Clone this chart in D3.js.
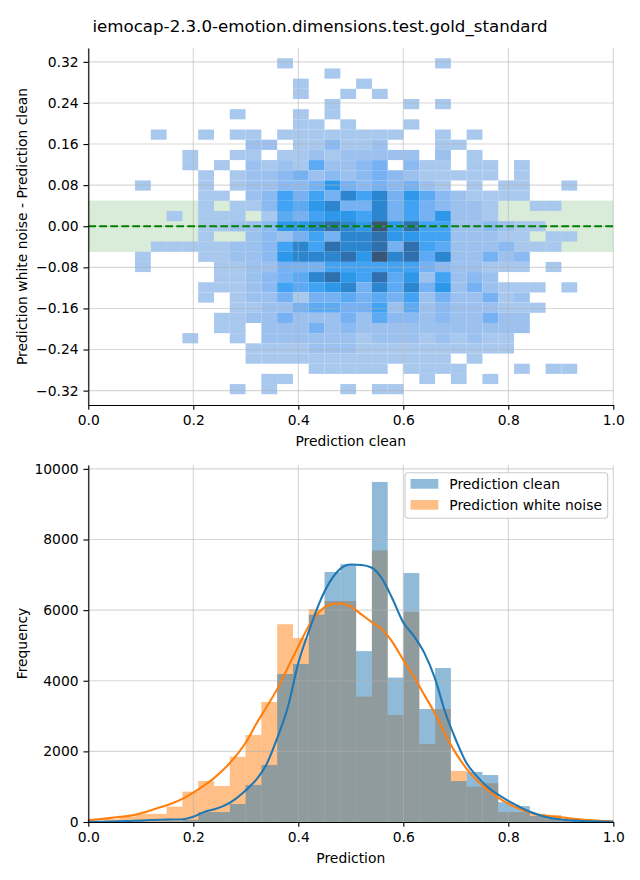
<!DOCTYPE html>
<html><head><meta charset="utf-8">
<script src="https://cdn.jsdelivr.net/npm/d3@7"></script>
<style>body{margin:0;background:#fff}</style>
</head><body><svg id="c" width="640" height="880"></svg>
<script>
// ---------------- data ----------------
const title = "iemocap-2.3.0-emotion.dimensions.test.gold_standard";
const xTicks = [0, 0.2, 0.4, 0.6, 0.8, 1.0];
const yTicksTop = [0.32, 0.24, 0.16, 0.08, 0, -0.08, -0.16, -0.24, -0.32];
const yTicksBottom = [0, 2000, 4000, 6000, 8000, 10000];
const seriesNames = ["Prediction clean", "Prediction white noise"];

// 2D histogram (rows from top = highest difference, 28 columns of Prediction clean)
const heatXStart = 0.089, heatXWidth = 0.03008;
const heatYTop = 0.327, heatYHeight = 0.01982;
const heatCounts = [
[0,0,0,0,0,0,0,0,0,1,0,0,0,0,0,0,0,0,0,1,0,0,0,0,0,0,0,0],
[0,0,0,0,0,0,0,0,0,0,0,0,1,0,0,0,0,0,0,0,0,0,0,0,0,0,0,0],
[0,0,0,0,0,0,0,0,0,0,1,0,0,0,1,0,0,0,0,0,0,0,0,0,0,0,0,0],
[0,0,0,0,0,0,0,0,0,0,1,0,0,1,0,1,0,0,0,0,0,0,0,0,0,0,0,0],
[0,0,0,0,0,0,0,0,0,0,0,0,1,0,0,0,0,1,0,1,0,0,0,0,0,0,0,0],
[0,0,0,0,0,0,1,0,0,0,1,0,1,0,0,0,0,0,0,0,0,0,0,0,0,0,0,0],
[0,0,0,0,0,0,0,0,0,0,1,1,0,1,0,0,0,1,0,0,0,0,0,0,0,0,0,0],
[0,1,0,0,1,0,1,1,0,1,1,1,1,1,1,1,1,0,0,1,0,1,0,0,0,0,0,0],
[0,0,0,0,0,0,0,2,2,0,1,1,3,1,1,2,0,0,0,1,1,0,0,0,0,0,0,0],
[0,0,0,1,0,0,1,1,0,1,1,2,1,2,2,2,2,2,0,2,0,1,0,0,0,0,0,0],
[0,0,0,1,0,1,0,2,1,2,1,5,2,2,3,4,0,3,1,1,0,1,1,0,1,0,0,0],
[0,0,0,0,1,0,1,2,2,3,4,2,3,2,3,4,3,2,1,1,1,1,1,0,1,0,0,0],
[1,0,0,0,1,0,1,2,2,3,3,4,7,4,3,4,3,4,2,1,0,1,0,1,1,0,0,1],
[0,0,0,0,1,1,0,2,3,6,4,6,4,8,6,8,4,7,5,3,2,1,1,1,1,0,0,0],
[0,0,0,0,1,0,1,1,3,6,5,7,8,4,4,8,4,6,4,3,2,2,1,0,0,1,1,0],
[0,0,1,0,1,1,1,0,1,5,4,6,7,7,6,8,4,6,4,7,2,2,1,0,0,0,0,0],
[0,0,0,0,1,1,2,2,3,7,7,8,9,8,7,10,7,9,6,6,2,2,3,2,1,1,0,0],
[0,0,0,0,1,0,0,2,3,2,4,6,4,8,8,9,7,7,6,6,2,2,2,1,1,0,1,1],
[0,1,1,1,1,1,2,2,3,6,8,6,9,8,8,9,4,9,6,5,2,2,2,3,1,1,1,0],
[1,0,0,0,1,1,2,2,3,7,8,8,8,9,7,10,8,9,5,8,2,2,4,2,3,0,0,0],
[1,0,0,0,0,1,1,2,2,4,4,4,6,6,6,6,6,6,4,3,2,2,1,1,1,0,1,0],
[0,0,0,0,0,1,1,2,3,4,5,8,9,7,6,9,5,7,2,6,2,3,2,0,0,0,0,0],
[0,0,0,0,1,1,1,2,3,6,5,6,7,8,4,8,5,8,4,7,2,4,2,1,1,1,0,1],
[0,0,0,0,1,0,1,2,2,4,1,4,4,5,4,5,4,6,2,4,2,2,4,1,2,0,0,0],
[0,0,0,0,0,0,1,1,2,2,4,5,5,4,4,6,2,5,2,3,2,2,2,1,1,1,0,0],
[0,0,0,0,0,1,1,2,2,4,2,2,2,4,2,5,3,3,2,3,2,2,4,2,2,0,0,0],
[0,0,0,0,0,1,1,0,2,2,2,4,2,3,2,2,2,2,2,2,2,2,2,2,2,0,0,0],
[0,0,0,1,0,0,1,0,2,2,2,2,2,2,1,2,2,2,1,2,1,2,1,1,0,0,0,0],
[0,0,0,0,0,0,0,1,1,1,1,2,2,2,1,1,1,1,1,1,1,1,1,1,0,0,0,0],
[0,0,0,0,0,0,0,1,1,1,1,1,1,1,1,1,1,1,1,1,0,1,0,0,0,0,0,0],
[0,0,0,0,0,0,0,0,0,0,0,1,1,1,1,1,0,1,1,1,1,0,0,0,1,0,1,1],
[0,0,0,0,0,0,0,0,1,1,0,0,0,0,0,0,0,0,1,0,1,0,1,0,0,0,0,0],
[0,0,0,0,0,0,1,0,1,0,0,0,0,1,0,1,1,0,0,0,0,0,0,0,0,0,0,0]
];
const bandLow = -0.05, bandHigh = 0.05;

// 1D histograms
const histStart = -0.0012, histWidth = 0.03008;
const histClean = [0,0,5,10,15,20,60,280,280,510,1050,1615,4190,4475,5870,7080,7300,4840,9630,4090,7050,3200,4360,1160,1415,1330,560,450,170,100,30];
const histNoise = [40,80,150,230,230,435,860,1160,1020,1850,2465,3400,5600,5210,6030,6260,6260,3550,7690,3030,5950,2210,3200,1445,1000,1100,280,280,230,200,40];

// KDE curves
const kdeX = [0,0.02,0.04,0.06,0.08,0.10,0.12,0.14,0.16,0.18,0.20,0.22,0.24,0.26,0.28,0.30,0.32,0.34,0.36,0.38,0.40,0.42,0.44,0.46,0.48,0.50,0.52,0.54,0.56,0.58,0.60,0.62,0.64,0.66,0.68,0.70,0.72,0.74,0.76,0.78,0.80,0.82,0.84,0.86,0.88,0.90,0.92,0.94,0.96,0.98,1.00];
const kdeClean = [4,8,12,20,30,40,55,65,70,80,150,280,360,470,650,900,1200,1650,2380,3250,4500,5400,6200,6800,7170,7290,7280,7200,6880,6300,5650,5270,4790,4080,3100,2330,1680,1300,1000,780,600,440,295,190,115,70,45,28,17,10,5];
const kdeNoise = [55,80,110,145,180,250,335,430,530,660,830,1030,1250,1520,1850,2250,2780,3270,3770,4370,4970,5550,5950,6150,6190,6100,5880,5660,5450,5080,4590,4120,3600,3080,2480,1950,1520,1180,920,700,520,380,275,200,165,135,100,70,45,30,20];

// ---------------- drawing ----------------
const FONT = '"DejaVu Sans", sans-serif';
const svg = d3.select("#c");
const L = 88.3, R = 613.3;
const top1 = 48, bot1 = 405;
const top2 = 465, bot2 = 822;
const tickLen = 4.86, lw = 1.11;
const minus = v => v.replace("-", "\u2212");

svg.append("text").attr("x", 320).attr("y", 31.5).attr("text-anchor", "middle")
  .attr("font-family", FONT).attr("font-size", 16.67).attr("fill", "#000").text(title);

// ----- top panel -----
const x1 = d3.scaleLinear().domain([0, 1]).range([L, R]);
const y1 = d3.scaleLinear().domain([-0.348, 0.347]).range([bot1, top1]);
const g1 = svg.append("g");

g1.append("rect").attr("x", L).attr("width", R - L)
  .attr("y", y1(bandHigh)).attr("height", y1(bandLow) - y1(bandHigh))
  .attr("fill", "green").attr("fill-opacity", 0.15);

const levelColors = ["#a9c8ee","#9dc1ef","#8bb9f1","#76b1f3","#5caaf4","#42a2f3","#2d98ea","#2b86cf","#306fae","#3a5676"];
const color = d3.scaleLinear().domain(d3.range(1, 11)).range(levelColors);
const cells = [];
heatCounts.forEach((row, r) => row.forEach((v, c) => { if (v > 0) cells.push({r, c, v}); }));
g1.append("g").selectAll("rect").data(cells).join("rect")
  .attr("x", d => x1(heatXStart + d.c * heatXWidth))
  .attr("width", d => x1(heatXStart + (d.c + 1) * heatXWidth) - x1(heatXStart + d.c * heatXWidth))
  .attr("y", d => y1(heatYTop - d.r * heatYHeight))
  .attr("height", d => y1(heatYTop - (d.r + 1) * heatYHeight) - y1(heatYTop - d.r * heatYHeight))
  .attr("fill", d => color(d.v));

function grid(g, x, y, xt, yt, t, b) {
  g.append("g").selectAll("line").data(xt).join("line")
    .attr("x1", d => x(d)).attr("x2", d => x(d)).attr("y1", t).attr("y2", b)
    .attr("stroke", "#b0b0b0").attr("stroke-opacity", 0.5).attr("stroke-width", lw);
  g.append("g").selectAll("line").data(yt).join("line")
    .attr("y1", d => y(d)).attr("y2", d => y(d)).attr("x1", L).attr("x2", R)
    .attr("stroke", "#b0b0b0").attr("stroke-opacity", 0.5).attr("stroke-width", lw);
}
grid(g1, x1, y1, xTicks, yTicksTop, top1, bot1);

g1.append("line").attr("x1", L).attr("x2", R).attr("y1", y1(0)).attr("y2", y1(0))
  .attr("stroke", "green").attr("stroke-width", 2.08).attr("stroke-dasharray", "7.7,3.3");

function styleAxis(g) {
  g.selectAll("path.domain").attr("stroke", "#000").attr("stroke-width", lw);
  g.selectAll(".tick line").attr("stroke", "#000").attr("stroke-width", lw);
  g.selectAll(".tick text").attr("font-family", FONT).attr("font-size", 13.89).attr("fill", "#000");
  g.attr("font-family", null).attr("font-size", null);
}
const ax1 = g1.append("g").attr("transform", `translate(0,${bot1})`)
  .call(d3.axisBottom(x1).tickValues(xTicks).tickFormat(d3.format(".1f")).tickSize(tickLen).tickPadding(4.86).tickSizeOuter(0));
styleAxis(ax1);
const ay1 = g1.append("g").attr("transform", `translate(${L},0)`)
  .call(d3.axisLeft(y1).tickValues(yTicksTop).tickFormat(d => minus(d3.format(".2f")(d))).tickSize(tickLen).tickPadding(4.86).tickSizeOuter(0));
styleAxis(ay1);

svg.append("text").attr("x", (L + R) / 2).attr("y", 446).attr("text-anchor", "middle")
  .attr("font-family", FONT).attr("font-size", 13.89).text("Prediction clean");
svg.append("text").attr("transform", `translate(26.5,${(top1 + bot1) / 2}) rotate(-90)`).attr("text-anchor", "middle")
  .attr("font-family", FONT).attr("font-size", 13.89).text("Prediction white noise - Prediction clean");

// ----- bottom panel -----
const x2 = d3.scaleLinear().domain([0, 1]).range([L, R]);
const y2 = d3.scaleLinear().domain([0, 10110]).range([bot2, top2]);
const g2 = svg.append("g");
const C0 = "#1f77b4", C1 = "#ff7f0e";

function bars(data, col) {
  g2.append("g").selectAll("rect").data(data).join("rect")
    .attr("x", (d, i) => x2(histStart + i * histWidth))
    .attr("width", (d, i) => x2(histStart + (i + 1) * histWidth) - x2(histStart + i * histWidth))
    .attr("y", d => y2(d)).attr("height", d => y2(0) - y2(d))
    .attr("fill", col).attr("fill-opacity", 0.5);
}
bars(histNoise, C1);
bars(histClean, C0);

grid(g2, x2, y2, xTicks, yTicksBottom, top2, bot2);

const line = vals => d3.line().x((d, i) => x2(kdeX[i])).y(d => y2(d)).curve(d3.curveMonotoneX)(vals);
g2.append("path").attr("d", line(kdeNoise)).attr("fill", "none").attr("stroke", C1).attr("stroke-width", 2.08);
g2.append("path").attr("d", line(kdeClean)).attr("fill", "none").attr("stroke", C0).attr("stroke-width", 2.08);

const ax2 = g2.append("g").attr("transform", `translate(0,${bot2})`)
  .call(d3.axisBottom(x2).tickValues(xTicks).tickFormat(d3.format(".1f")).tickSize(tickLen).tickPadding(4.86).tickSizeOuter(0));
styleAxis(ax2);
const ay2 = g2.append("g").attr("transform", `translate(${L},0)`)
  .call(d3.axisLeft(y2).tickValues(yTicksBottom).tickFormat(d3.format("d")).tickSize(tickLen).tickPadding(4.86).tickSizeOuter(0));
styleAxis(ay2);

svg.append("text").attr("x", (L + R) / 2).attr("y", 863).attr("text-anchor", "middle")
  .attr("font-family", FONT).attr("font-size", 13.89).text("Prediction");
svg.append("text").attr("transform", `translate(26.5,${(top2 + bot2) / 2}) rotate(-90)`).attr("text-anchor", "middle")
  .attr("font-family", FONT).attr("font-size", 13.89).text("Frequency");

// legend
const lg = svg.append("g").attr("transform", "translate(405,472.7)");
lg.append("rect").attr("width", 202.7).attr("height", 45.6).attr("rx", 3)
  .attr("fill", "#fff").attr("fill-opacity", 0.8).attr("stroke", "#cccccc").attr("stroke-width", 1.1);
const lgItems = lg.selectAll("g.it").data(seriesNames).join("g").attr("class", "it")
  .attr("transform", (d, i) => `translate(0,${11.3 + i * 21})`);
lgItems.append("rect").attr("x", 5.5).attr("y", -5).attr("width", 27.8).attr("height", 9.7)
  .attr("fill", (d, i) => i === 0 ? C0 : C1).attr("fill-opacity", 0.5);
lgItems.append("text").attr("x", 44.3).attr("dy", "0.36em")
  .attr("font-family", FONT).attr("font-size", 13.89).text(d => d);
</script></body></html>
